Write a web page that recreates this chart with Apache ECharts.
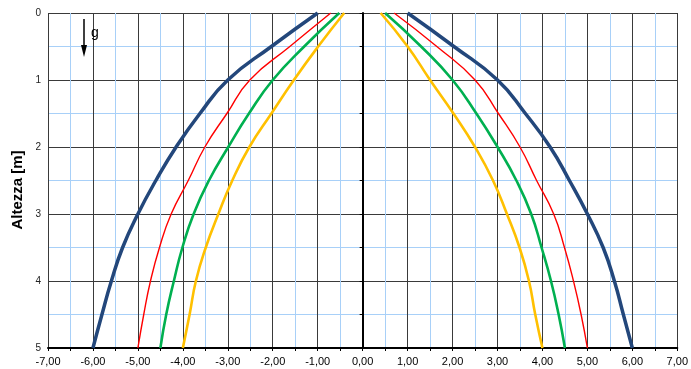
<!DOCTYPE html>
<html>
<head>
<meta charset="utf-8">
<script src="https://cdn.jsdelivr.net/npm/echarts@6/dist/echarts.min.js"></script>
<style>html,body{margin:0;padding:0;background:#fff}#c{width:691px;height:369px}</style>
</head>
<body>
<div id="c"></div>
<script>
// Heights (m) at which each curve is sampled
const heights = [0, 0.5, 1, 1.5, 2, 2.5, 3, 3.5, 4, 4.5, 5];

// Right-hand branches (x values)
const blueRight   = [1.00, 2.03, 3.00, 3.62, 4.17, 4.60, 5.00, 5.35, 5.60, 5.80, 6.00];
const redRight    = [0.70, 1.65, 2.50, 3.02, 3.50, 3.87, 4.25, 4.49, 4.69, 4.86, 5.00];
const greenRight  = [0.50, 1.30, 2.00, 2.53, 3.00, 3.42, 3.75, 3.98, 4.19, 4.36, 4.50];
const yellowRight = [0.40, 1.00, 1.50, 2.02, 2.50, 2.90, 3.21, 3.49, 3.70, 3.84, 4.00];

// Left-hand branches (x values)
const blueLeft   = [-1.00, -2.03, -3.00, -3.62, -4.15, -4.60, -5.00, -5.34, -5.59, -5.80, -6.00];
const redLeft    = [-0.71, -1.62, -2.51, -3.02, -3.51, -3.88, -4.26, -4.52, -4.72, -4.87, -5.00];
const greenLeft  = [-0.52, -1.30, -2.00, -2.53, -2.99, -3.42, -3.76, -4.01, -4.20, -4.37, -4.50];
const yellowLeft = [-0.41, -0.99, -1.53, -2.03, -2.52, -2.90, -3.21, -3.49, -3.71, -3.85, -4.00];

// Axis tick labels
const xTickValues = [-7, -6, -5, -4, -3, -2, -1, 0, 1, 2, 3, 4, 5, 6, 7];
const yTickValues = [0, 1, 2, 3, 4, 5];
const yAxisTitle = 'Altezza [m]';
const gravityLabel = 'g';

const FONT = '"Liberation Sans", Arial, sans-serif';
const pairs = (xs) => xs.map((x, i) => [x, heights[i]]);

const curves = [
  { name: 'blu',    color: '#23477b', width: 3.5, left: blueLeft,   right: blueRight },
  { name: 'rosso',  color: '#ff0000', width: 1.4, left: redLeft,    right: redRight },
  { name: 'verde',  color: '#00b050', width: 2.6, left: greenLeft,  right: greenRight },
  { name: 'giallo', color: '#ffc000', width: 2.6, left: yellowLeft, right: yellowRight }
];

const series = [];
curves.forEach(c => {
  [c.left, c.right].forEach(xs => {
    series.push({
      type: 'line', name: c.name, data: pairs(xs),
      showSymbol: false, smooth: 0.5, z: 5,
      lineStyle: { color: c.color, width: c.width },
      itemStyle: { color: c.color }
    });
  });
});

const chart = echarts.init(document.getElementById('c'), null, { renderer: 'canvas' });
chart.setOption({
  animation: false,
  backgroundColor: '#ffffff',
  grid: { left: 48, right: 13, top: 13, bottom: 21, containLabel: false },
  xAxis: {
    type: 'value', min: xTickValues[0], max: xTickValues[xTickValues.length - 1], interval: 1,
    position: 'bottom',
    axisLine: { onZero: false, lineStyle: { color: '#000', width: 2 } },
    axisTick: { show: true, length: 3, lineStyle: { color: '#000' } },
    minorTick: { show: true, splitNumber: 2, length: 3, lineStyle: { color: '#000' } },
    axisLabel: {
      fontFamily: FONT, fontSize: 11, color: '#000', margin: 8,
      formatter: v => v.toFixed(2).replace('.', ',')
    },
    splitLine: { show: true, lineStyle: { color: '#3a3a3a', width: 1 } },
    minorSplitLine: { show: true, lineStyle: { color: '#a8d0f8', width: 1 } }
  },
  yAxis: {
    type: 'value', inverse: true, min: yTickValues[0], max: yTickValues[yTickValues.length - 1], interval: 1,
    axisLine: { onZero: true, lineStyle: { color: '#000', width: 2 } },
    axisTick: { show: true, length: 3, lineStyle: { color: '#000' } },
    minorTick: { show: true, splitNumber: 2, length: 3, lineStyle: { color: '#000' } },
    axisLabel: { fontFamily: FONT, fontSize: 10, color: '#222', margin: 7, formatter: v => String(v) },
    splitLine: { show: true, lineStyle: { color: '#3a3a3a', width: 1 } },
    minorSplitLine: { show: true, lineStyle: { color: '#a8d0f8', width: 1 } }
  },
  graphic: [
    {
      type: 'text', x: 18, y: 190, rotation: Math.PI / 2,
      style: { text: yAxisTitle, font: 'bold 15px ' + FONT, fill: '#000', textAlign: 'center', textVerticalAlign: 'middle' }
    },
    { type: 'line', shape: { x1: 84, y1: 19, x2: 84, y2: 48 }, style: { stroke: '#000', lineWidth: 1.5 }, z: 10 },
    { type: 'polygon', shape: { points: [[81, 45], [87, 45], [84, 57]] }, style: { fill: '#000' }, z: 10 },
    {
      type: 'text', x: 91, y: 33,
      style: { text: gravityLabel, font: '14px ' + FONT, fill: '#000', textAlign: 'left', textVerticalAlign: 'middle' }, z: 10
    }
  ],
  series: series
});
</script>
</body>
</html>
